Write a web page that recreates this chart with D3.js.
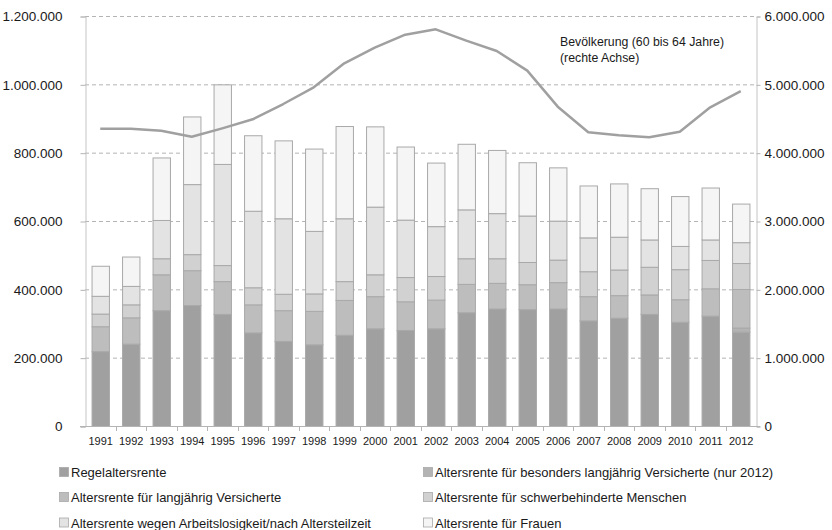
<!DOCTYPE html>
<html lang="de">
<head>
<meta charset="utf-8">
<script src="https://cdn.jsdelivr.net/npm/d3@7"></script>
<style>
  html, body { margin: 0; padding: 0; background: #fff; }
  svg { display: block; }
  text { font-family: "Liberation Sans", Arial, sans-serif; fill: #1a1a1a; }
</style>
</head>
<body>
<svg id="chart" width="832" height="530"></svg>
<script>
// Zugänge in Altersrenten nach Rentenart, 1991–2012, und Bevölkerung 60 bis 64 Jahre
const years = ["1991","1992","1993","1994","1995","1996","1997","1998","1999","2000","2001",
               "2002","2003","2004","2005","2006","2007","2008","2009","2010","2011","2012"];

const regelaltersrente = [219000,241000,339000,354000,328000,274000,249000,239000,267000,286000,281000,
                          286000,333000,344000,342000,344000,309000,317000,328000,305000,323000,276000];
const besondersLangjaehrig = [0,0,0,0,0,0,0,0,0,0,0,0,0,0,0,0,0,0,0,0,0,12000];
const langjaehrigVersicherte = [73000,77000,105000,102000,96000,82000,90000,98000,102000,94000,84000,
                                84000,83000,75000,73000,77000,71000,66000,57000,66000,80000,113000];
const schwerbehinderte = [37000,38000,47000,47000,47000,50000,48000,51000,55000,64000,71000,
                          69000,75000,72000,65000,66000,73000,75000,81000,88000,83000,76000];
const arbeitslosigkeit = [52000,54000,112000,205000,296000,224000,221000,183000,184000,198000,168000,
                          146000,143000,132000,136000,114000,99000,96000,80000,68000,60000,61000];
const frauen = [88000,86000,183000,198000,233000,221000,228000,241000,270000,235000,214000,
                186000,192000,185000,156000,156000,152000,156000,150000,146000,152000,113000];

const bevoelkerung = [4351000,4351000,4322000,4234000,4356000,4488000,4712000,4956000,5307000,5537000,5727000,
                      5805000,5639000,5488000,5200000,4673000,4298000,4254000,4225000,4307000,4664000,4902000];

const leftTicks = [0,200000,400000,600000,800000,1000000,1200000];
const rightTicks = [0,1000000,2000000,3000000,4000000,5000000,6000000];

const seriesNames = [
  "Regelaltersrente",
  "Altersrente für besonders langjährig Versicherte (nur 2012)",
  "Altersrente für langjährig Versicherte",
  "Altersrente für schwerbehinderte Menschen",
  "Altersrente wegen Arbeitslosigkeit/nach Altersteilzeit",
  "Altersrente für Frauen"
];
const seriesValues = [regelaltersrente, besondersLangjaehrig, langjaehrigVersicherte,
                      schwerbehinderte, arbeitslosigkeit, frauen];
const seriesColors = ["#a0a0a0", "#b3b3b3", "#bdbdbd", "#d1d1d1", "#e3e3e3", "#f5f5f5"];

const lineLabel = ["Bevölkerung (60 bis 64 Jahre)", "(rechte Achse)"];

// Zeilen für d3.stack
const rows = years.map((y, i) => {
  const r = { year: y };
  seriesNames.forEach((n, k) => { r[n] = seriesValues[k][i]; });
  return r;
});

const de = d3.formatLocale({ decimal: ",", thousands: ".", grouping: [3], currency: ["", " €"] });
const fmt = de.format(",.0f");

const svg = d3.select("#chart");
const m = { left: 85, right: 76, top: 16, bottom: 104 };
const W = 832, H = 530;
const x0 = m.left, x1 = W - m.right, yTop = m.top, yBot = H - m.bottom;

const x = d3.scaleBand().domain(years).range([x0, x1]).paddingInner(0.43).paddingOuter(0.215);
const y = d3.scaleLinear().domain([0, 1200000]).range([yBot, yTop]);
const y2 = d3.scaleLinear().domain([0, 6000000]).range([yBot, yTop]);

// Gitterlinien
svg.append("g")
  .selectAll("line")
  .data(leftTicks.filter(t => t > 0))
  .join("line")
  .attr("x1", x0).attr("x2", x1)
  .attr("y1", d => y(d) + 0.5).attr("y2", d => y(d) + 0.5)
  .attr("stroke", "#b4b4b4")
  .attr("stroke-dasharray", "4,3")
  .attr("stroke-width", 1);

// Linke Achse
const gl = svg.append("g")
  .attr("transform", `translate(${x0 + 0.5},0.5)`)
  .call(d3.axisLeft(y).tickValues(leftTicks).tickFormat(fmt).tickSize(5).tickPadding(18));
// Rechte Achse
const gr = svg.append("g")
  .attr("transform", `translate(${x1 + 0.5},0.5)`)
  .call(d3.axisRight(y2).tickValues(rightTicks).tickFormat(fmt).tickSize(4).tickPadding(4));

[gl, gr].forEach(g => {
  g.select(".domain").attr("stroke", "#c4c4c4");
  g.selectAll(".tick line").attr("stroke", "#b4b4b4");
  g.selectAll(".tick text")
    .attr("font-size", 13.5)
    .attr("font-family", "'Liberation Sans', Arial, sans-serif")
    .attr("fill", "#1a1a1a");
});

// Balken
const stack = d3.stack().keys(seriesNames);
const layers = stack(rows);

svg.append("g")
  .selectAll("g")
  .data(layers)
  .join("g")
  .attr("fill", (d, i) => seriesColors[i])
  .selectAll("rect")
  .data(d => d.filter(p => p[1] - p[0] > 0))
  .join("rect")
  .attr("x", d => x(d.data.year) + 0.5)
  .attr("width", x.bandwidth())
  .attr("y", d => y(d[1]) + 0.5)
  .attr("height", d => y(d[0]) - y(d[1]))
  .attr("stroke", "#a9a9a9")
  .attr("stroke-width", 1);

// X-Achse
const xg = svg.append("g");
xg.append("line")
  .attr("x1", x0 - 5).attr("x2", x1 + 4)
  .attr("y1", yBot + 0.5).attr("y2", yBot + 0.5)
  .attr("stroke", "#b4b4b4");
const bounds = years.map(yr => x(yr) + x.bandwidth() / 2 - x.step() / 2).slice(1);
xg.selectAll("line.t")
  .data(bounds)
  .join("line")
  .attr("class", "t")
  .attr("x1", d => Math.round(d) + 0.5).attr("x2", d => Math.round(d) + 0.5)
  .attr("y1", yBot).attr("y2", yBot + 5)
  .attr("stroke", "#b4b4b4");
xg.selectAll("text")
  .data(years)
  .join("text")
  .attr("x", d => x(d) + x.bandwidth() / 2 + 0.5)
  .attr("y", yBot + 19)
  .attr("text-anchor", "middle")
  .attr("font-size", 11)
  .text(d => d);

// Bevölkerungslinie (rechte Achse)
const line = d3.line()
  .x((d, i) => x(years[i]) + x.bandwidth() / 2)
  .y(d => y2(d));
svg.append("path")
  .datum(bevoelkerung)
  .attr("d", line)
  .attr("fill", "none")
  .attr("stroke", "#a0a0a0")
  .attr("stroke-width", 2.5)
  .attr("stroke-linejoin", "round");

svg.append("g")
  .selectAll("text")
  .data(lineLabel)
  .join("text")
  .attr("x", 560)
  .attr("y", (d, i) => 46 + i * 16)
  .attr("font-size", 12.3)
  .text(d => d);

// Legende
const leg = svg.append("g");
const legPos = [[59, 472], [423, 472], [59, 497], [423, 497], [59, 522.5], [423, 522.5]];
seriesNames.forEach((n, i) => {
  const [lx, ly] = legPos[i];
  leg.append("rect")
    .attr("x", lx + 0.5).attr("y", ly - 4.5)
    .attr("width", 9).attr("height", 9)
    .attr("fill", seriesColors[i])
    .attr("stroke", "#a9a9a9").attr("stroke-width", 0.8);
  leg.append("text")
    .attr("x", lx + 12)
    .attr("y", ly + 5)
    .attr("font-size", 13)
    .text(n);
});
</script>
</body>
</html>
